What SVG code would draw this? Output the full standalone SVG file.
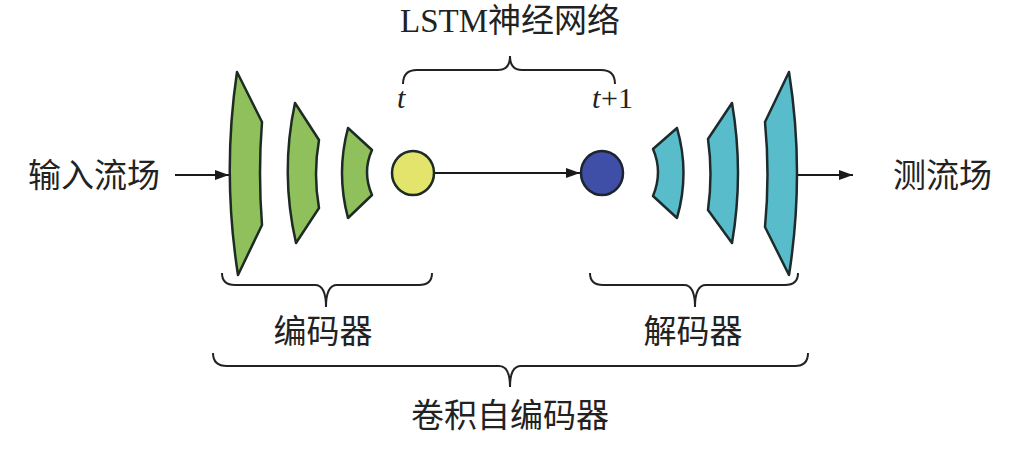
<svg xmlns="http://www.w3.org/2000/svg" width="1013" height="457" viewBox="0 0 1013 457">
<defs>
<marker id="ah" viewBox="0 0 14 10" refX="14" refY="5" markerWidth="14" markerHeight="10" markerUnits="userSpaceOnUse" orient="auto">
<path d="M0,0 L14,5 L0,10 Z" fill="#1a1a1a"/>
</marker>
<style>
.enc{fill:#8fc05c;stroke:#1d2b24;stroke-width:2.5;stroke-linejoin:round}
.dec{fill:#58bccb;stroke:#1d2b2c;stroke-width:2.5;stroke-linejoin:round}
.brace{fill:none;stroke:#222;stroke-width:2}
.conn{stroke:#1a1a1a;stroke-width:2;fill:none}
.lbl{font-family:"Liberation Serif","Noto Sans CJK SC",serif;font-size:33px;fill:#222}
.it{font-family:"Liberation Serif",serif;font-style:italic;font-size:30px;fill:#222}
.num{font-family:"Liberation Serif",serif;font-size:30px;fill:#222}
</style>
</defs>
<rect width="1013" height="457" fill="#fff"/>
<g id="connectors">
<line class="conn" x1="175" y1="175" x2="229" y2="175" marker-end="url(#ah)"/>
<line class="conn" x1="435" y1="173" x2="580" y2="173" marker-end="url(#ah)"/>
<line class="conn" x1="797" y1="175" x2="853" y2="175" marker-end="url(#ah)"/>
</g>
<g id="input"><text class="lbl" x="28" y="187">输入流场</text></g>
<g id="output"><text class="lbl" x="893" y="187">测流场</text></g>
<g id="enc1"><path class="enc" d="M237,72 L262,122 Q258,173 262,225 L238,275 Q222,173 237,72 Z"/></g>
<g id="enc2"><path class="enc" d="M295,103 L319,140 Q313,174 319,208 L296,243 Q280,173 295,103 Z"/></g>
<g id="enc3"><path class="enc" d="M348,128 L372,150 Q362,172 372,195 L348,218 Q336,173 348,128 Z"/></g>
<g id="lstm-t"><ellipse cx="413" cy="173" rx="21" ry="22" fill="#e2e46c" stroke="#1d2b24" stroke-width="2.5"/></g>
<g id="lstm-t1"><ellipse cx="602" cy="173" rx="21" ry="22" fill="#3f4ea6" stroke="#1d2430" stroke-width="2.5"/></g>
<g id="dec1"><path class="dec" d="M677,128 L653,149 Q663,172 653,196 L677,218 Q690,173 677,128 Z"/></g>
<g id="dec2"><path class="dec" d="M732,103 L708,139 Q713,174 708,210 L732,243 Q744,173 732,103 Z"/></g>
<g id="dec3"><path class="dec" d="M789,72 L765,122 Q770,174 765,227 L789,275 Q805,173 789,72 Z"/></g>
<g id="lstm-brace">
<path class="brace" d="M403,84 Q403,70 417,70 L498,70 Q510,70 510,56 Q510,70 522,70 L601,70 Q615,70 615,84"/>
<text class="lbl" x="510" y="32" text-anchor="middle">LSTM神经网络</text>
<text class="it" x="397" y="108">t</text>
<text class="it" x="592" y="108">t</text><text class="num" x="601" y="108">+1</text>
</g>
<g id="encoder-brace">
<path class="brace" d="M222,273 Q222,285 235,285 L315,285 Q326,285 326,307 Q326,285 337,285 L419,285 Q432,285 432,273"/>
<text class="lbl" x="323" y="343" text-anchor="middle">编码器</text>
</g>
<g id="decoder-brace">
<path class="brace" d="M590,273 Q590,285 603,285 L684,285 Q695,285 695,307 Q695,285 706,285 L785,285 Q798,285 798,273"/>
<text class="lbl" x="693" y="343" text-anchor="middle">解码器</text>
</g>
<g id="cae-brace">
<path class="brace" d="M213,353 Q213,366 227,366 L499,366 Q510,366 510,387 Q510,366 521,366 L795,366 Q808,366 808,353"/>
<text class="lbl" x="510" y="427" text-anchor="middle">卷积自编码器</text>
</g>
</svg>
